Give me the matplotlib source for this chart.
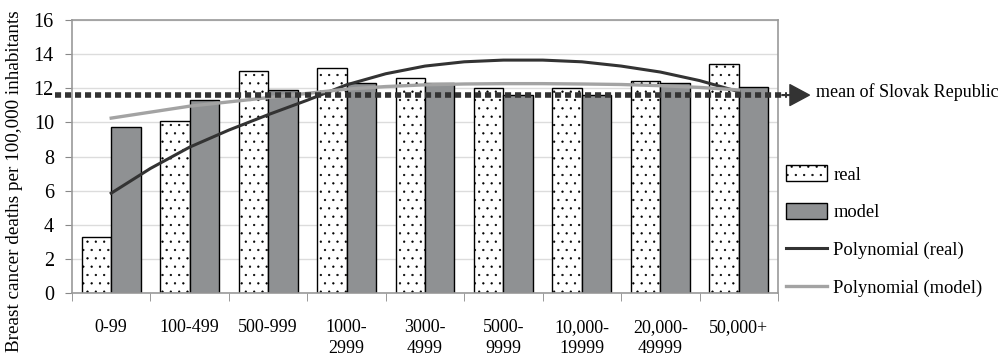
import matplotlib.pyplot as plt
import numpy as np

plt.rcParams['font.family'] = ['Liberation Serif', 'DejaVu Serif']
plt.rcParams['hatch.linewidth'] = 0.4
plt.rcParams['hatch.color'] = '#444444'

# categories (population size of municipality)
categories = ['0-99', '100-499', '500-999', '1000-\n2999', '3000-\n4999',
              '5000-\n9999', '10,000-\n19999', '20,000-\n49999', '50,000+']
real = [3.3, 10.1, 13.0, 13.2, 12.6, 12.0, 12.0, 12.4, 13.4]
model = [9.7, 11.3, 11.9, 12.3, 12.3, 11.6, 11.6, 12.3, 12.1]
slovak_mean = 11.6

# trend lines (at category centres and halfway points)
trend_x = [1, 1.5, 2, 2.5, 3, 3.5, 4, 4.5, 5, 5.5, 6, 6.5, 7, 7.5, 8, 8.5, 9]
poly_real = [5.85, 7.3, 8.55, 9.55, 10.45, 11.3, 12.2, 12.85, 13.3, 13.55,
             13.65, 13.65, 13.55, 13.3, 12.95, 12.45, 11.8]
poly_model = [10.25, 10.6, 10.95, 11.2, 11.45, 11.7, 11.95, 12.1, 12.2, 12.25,
              12.27, 12.27, 12.25, 12.22, 12.15, 12.05, 11.9]

fig = plt.figure(figsize=(10.05, 3.61), dpi=100)
ax = fig.add_axes([72 / 1005, 1 - 293 / 361, 706 / 1005, 273 / 361])

x = np.arange(1, len(categories) + 1)
w = 0.375
b1 = ax.bar(x - w / 2, real, w, color='white', edgecolor='black', hatch='..',
            linewidth=1.0, label='real', zorder=2)
b2 = ax.bar(x + w / 2, model, w, color='#8f9193', edgecolor='black',
            linewidth=1.0, label='model', zorder=2)
l1, = ax.plot(trend_x, poly_real, color='#333333', lw=2.2, label='Polynomial (real)', zorder=3)
l2, = ax.plot(trend_x, poly_model, color='#a3a3a3', lw=2.4, label='Polynomial (model)', zorder=3)

# mean of Slovak Republic (dotted line with arrow)
ax.plot([0.28, 9.62], [slovak_mean, slovak_mean], color='#333333', lw=4.0,
        dashes=(1.1, 0.7), solid_capstyle='butt', clip_on=False, zorder=4)
ax.annotate('', xy=(9.9, slovak_mean), xytext=(9.55, slovak_mean),
            arrowprops=dict(facecolor='#333333', edgecolor='#333333',
                            width=0.5, headwidth=15, headlength=14),
            annotation_clip=False, zorder=4)
ax.text(9.98, slovak_mean + 0.15, 'mean of Slovak Republic', fontsize=13,
        va='center', ha='left', clip_on=False)

ax.set_xlim(0.5, 9.5)
ax.set_ylim(0, 16)
ax.set_yticks(range(0, 17, 2))
ax.set_xticks(x)
ax.set_xticklabels(categories, fontsize=13, linespacing=1.3)
ax.set_xticks(np.arange(0.5, 9.6, 1), minor=True)
ax.tick_params(axis='x', which='major', length=0, pad=19)
ax.tick_params(axis='x', which='minor', length=6, color='#888888', direction='out')
ax.tick_params(axis='y', labelsize=14.5, length=5, color='#888888', pad=8)
ax.yaxis.grid(True, color='#dcdcdc', lw=1.0, zorder=0)
ax.set_axisbelow(True)
for s in ax.spines.values():
    s.set_color('#999999')
    s.set_linewidth(1.2)

fig.text(15 / 1005, 1 - 181 / 361, 'Breast cancer deaths per 100,000 inhabitants',
         fontsize=13.8, rotation=90, ha='center', va='center')

ax.legend(handles=[b1, b2, l1, l2], loc='center left',
          bbox_to_anchor=(786 / 1005, 1 - 231 / 361),
          bbox_transform=fig.transFigure, frameon=False, fontsize=13.3,
          borderaxespad=0, borderpad=0, labelspacing=1.05,
          handlelength=2.2, handleheight=0.95, handletextpad=0.35)

fig.savefig('out.png', dpi=100)
